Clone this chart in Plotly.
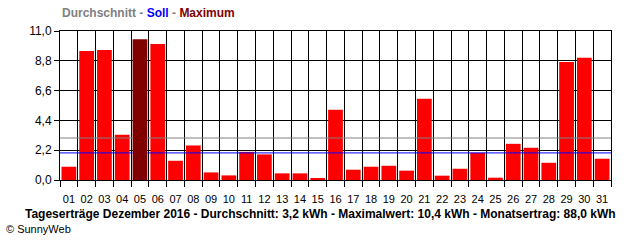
import plotly.graph_objects as go

days = [f"{d:02d}" for d in range(1, 32)]
values = [0.98, 9.53, 9.60, 3.34, 10.40, 10.04, 1.42, 2.55, 0.56, 0.34,
          2.08, 1.89, 0.49, 0.49, 0.10, 5.18, 0.76, 0.98, 1.05, 0.69,
          6.00, 0.32, 0.83, 2.01, 0.17, 2.67, 2.38, 1.27, 8.72, 9.02, 1.57]
average = 3.1
target = 2.0
y_ticks = [0.0, 2.2, 4.4, 6.6, 8.8, 11.0]
legend_parts = [("Durchschnitt", "#808080"), ("Soll", "#0000FF"), ("Maximum", "#800000")]
footer = "Tageserträge Dezember 2016 - Durchschnitt: 3,2 kWh - Maximalwert: 10,4 kWh - Monatsertrag: 88,0 kWh"
copyright_text = "© SunnyWeb"

bargap = 0.17
x = list(range(1, 32))
imax = max(range(len(values)), key=lambda i: values[i])
xmax = x[imax]
hw = (1 - bargap) / 2

red_vals = [v if i != imax else None for i, v in enumerate(values)]
max_vals = [v if i == imax else None for i, v in enumerate(values)]

fig = go.Figure()
fig.add_trace(go.Bar(x=x, y=red_vals, marker=dict(color="#FF0000", line=dict(width=0)),
                     showlegend=False, hoverinfo="skip"))
lx = [0.5, xmax - hw, None, xmax + hw, 31.5]
fig.add_trace(go.Scatter(x=lx, y=[average, average, None, average, average], mode="lines",
                         line=dict(color="#808080", width=1), connectgaps=False, showlegend=False))
fig.add_trace(go.Scatter(x=lx, y=[target, target, None, target, target], mode="lines",
                         line=dict(color="#0000FF", width=1), connectgaps=False, showlegend=False))
fig.add_trace(go.Bar(x=x, y=max_vals, marker=dict(color="#800000", line=dict(width=0)),
                     showlegend=False, hoverinfo="skip"))

font = "Liberation Sans, Arial, sans-serif"
fig.update_layout(
    width=640, height=240,
    margin=dict(l=60, r=29, t=31, b=60),
    paper_bgcolor="white", plot_bgcolor="white",
    barmode="overlay", bargap=bargap,
    separators=",.",
    font=dict(family=font, size=11, color="black"),
    xaxis=dict(range=[0.5, 31.5], tickmode="array", tickvals=x, ticktext=days,
               ticks="outside", ticklen=9, tickcolor="rgba(0,0,0,0)",
               showgrid=False, zeroline=False,
               showline=True, mirror=True, linecolor="black", linewidth=1,
               tickfont=dict(size=11),
               minor=dict(tickmode="array", tickvals=[v + 0.5 for v in range(0, 32)],
                          ticks="outside", ticklen=6, tickcolor="black",
                          showgrid=True, gridcolor="black", gridwidth=1)),
    yaxis=dict(range=[0, 11], tickmode="array", tickvals=y_ticks, tickformat=".1f",
               ticks="outside", ticklen=5, tickcolor="black",
               showgrid=True, gridcolor="black", gridwidth=1, zeroline=False,
               showline=True, mirror=True, linecolor="black", linewidth=1,
               tickfont=dict(size=12)),
)

legend_html = " - ".join(f"<span style='color:{c}'>{t}</span>" for t, c in legend_parts)
fig.add_annotation(text=f"<b>{legend_html}</b>", xref="paper", yref="paper",
                   x=0, y=1, yshift=18, xanchor="left", yanchor="middle",
                   showarrow=False, font=dict(size=12, color="#808080"))
fig.add_annotation(text=f"<b>{footer}</b>", xref="paper", yref="paper",
                   x=0.5, y=0, xshift=-(60 - 29) / 2, yshift=-34, xanchor="center", yanchor="middle",
                   showarrow=False, font=dict(size=12))
fig.add_annotation(text=copyright_text, xref="paper", yref="paper",
                   x=0, y=0, xshift=-56, yshift=-49, xanchor="left", yanchor="middle",
                   showarrow=False, font=dict(size=11))

fig.write_html("out.html")
